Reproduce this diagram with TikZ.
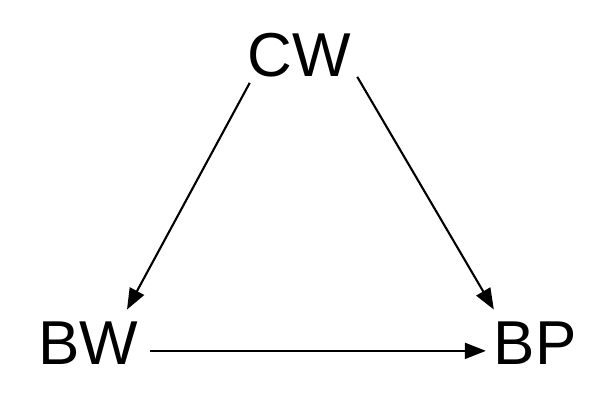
\documentclass[tikz,border=0pt]{standalone}
\usepackage{fontspec}
\setmainfont{Liberation Sans}
\usetikzlibrary{arrows.meta,calc}
\begin{document}
\begin{tikzpicture}[x=1pt,y=1pt,
  lbl/.style={inner sep=0pt,anchor=base,font=\fontsize{62}{72}\selectfont},
  arr/.style={line width=2.1pt,-{Triangle[length=21pt,width=16pt]}}]
\useasboundingbox (0,0) rectangle (600,412);
\node[lbl] (cw) at (299,335) {CW};
\node[lbl] (bw) at (88,47) {BW};
\node[lbl] (bp) at (535,47) {BP};
\draw[arr] ($(cw.south west)+(2.6,-5)$) -- ($(bw.north)+(39,12.6)$);
\draw[arr] ($(cw.south east)+(6.4,1)$) -- ($(bp.north west)+(0.4,12.6)$);
\draw[arr] ($(bw.east)+(12.1,-7.2)$) -- ($(bp.west)+(-7.6,-7.2)$);
\end{tikzpicture}
\end{document}
